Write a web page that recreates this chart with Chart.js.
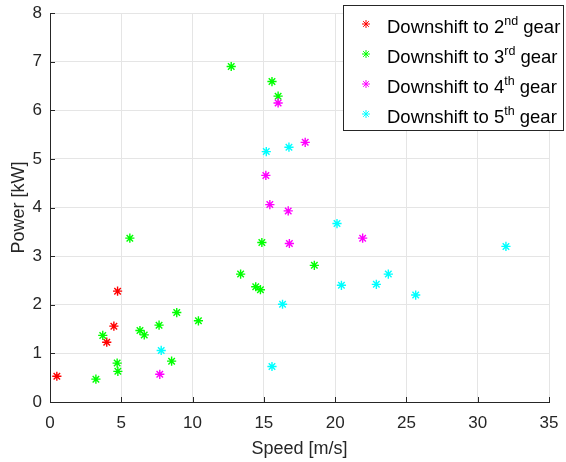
<!DOCTYPE html>
<html>
<head>
<meta charset="utf-8">
<script src="https://cdn.jsdelivr.net/npm/chart.js@4"></script>
<style>
  html, body { margin: 0; padding: 0; background: #fff; }
  #wrap { width: 566px; height: 462px; }
</style>
</head>
<body>
<div id="wrap"><canvas id="gearChart" width="566" height="462"></canvas></div>
<script>
// values
const speed2 = [0.48, 3.98, 4.48, 4.74];
const power2 = [0.53, 1.23, 1.56, 2.28];

const speed3 = [12.71, 15.57, 16.0, 5.60, 14.86, 13.37, 18.54, 14.43, 14.76, 8.89, 10.41, 7.65, 6.31, 6.61, 3.70, 4.71, 4.76, 3.22, 8.53];
const power3 = [6.90, 6.59, 6.29, 3.37, 3.28, 2.63, 2.81, 2.37, 2.31, 1.84, 1.67, 1.58, 1.47, 1.38, 1.37, 0.80, 0.63, 0.47, 0.84];

const speed4 = [16.0, 17.9, 15.14, 15.42, 16.71, 16.79, 21.93, 7.70];
const power4 = [6.15, 5.34, 4.66, 4.06, 3.93, 3.26, 3.37, 0.57];

const speed5 = [15.17, 16.76, 20.13, 31.98, 23.73, 20.44, 22.89, 25.65, 16.31, 7.80, 15.57];
const power5 = [5.15, 5.24, 3.67, 3.20, 2.63, 2.40, 2.42, 2.20, 2.01, 1.06, 0.73];

const gearNums = ['2', '3', '4', '5'];
const gearSuffix = ['nd', 'rd', 'th', 'th'];
const gearColors = ['#ff0000', '#00ff00', '#ff00ff', '#00ffff'];

const xTicks = [0, 5, 10, 15, 20, 25, 30, 35];
const yTicks = [0, 1, 2, 3, 4, 5, 6, 7, 8];

const FONT = '"Liberation Sans", Arial, sans-serif';
const INK = '#262626';

function toPoints(xs, ys) {
    return xs.map((x, i) => ({ x: x, y: ys[i] }));
}

const series = [
    toPoints(speed2, power2),
    toPoints(speed3, power3),
    toPoints(speed4, power4),
    toPoints(speed5, power5)
];

const datasets = series.map((pts, i) => ({
    label: 'Downshift to ' + gearNums[i] + gearSuffix[i] + ' gear',
    data: pts,
    pointStyle: 'star',
    pointRadius: 4.6,
    pointBorderWidth: 1.4,
    borderColor: gearColors[i],
    backgroundColor: gearColors[i],
    showLine: false,
    order: 4 - i
}));

// inward ticks + legend with superscripts
const matlabBits = {
    id: 'matlabBits',
    afterDraw(chart) {
        const ctx = chart.ctx;
        const xs = chart.scales.x;
        const ys = chart.scales.y;
        const area = chart.chartArea;
        ctx.save();
        ctx.strokeStyle = INK;
        ctx.lineWidth = 1;
        ctx.beginPath();
        xTicks.forEach(t => {
            const px = Math.round(xs.getPixelForValue(t)) + 0.5;
            ctx.moveTo(px, area.bottom);
            ctx.lineTo(px, area.bottom - 5);
        });
        yTicks.forEach(t => {
            const py = Math.round(ys.getPixelForValue(t)) + 0.5;
            ctx.moveTo(area.left, py);
            ctx.lineTo(area.left + 5, py);
        });
        ctx.stroke();

        // legend box
        const bx = 343.5, by = 5.5, bw = 220, bh = 125;
        ctx.fillStyle = '#fff';
        ctx.fillRect(bx, by, bw, bh);
        ctx.strokeStyle = INK;
        ctx.strokeRect(bx, by, bw, bh);

        for (let i = 0; i < gearNums.length; i++) {
            const cy = 27 + i * 30;
            ctx.strokeStyle = gearColors[i];
            ctx.fillStyle = gearColors[i];
            Chart.helpers.drawPoint(ctx, {
                pointStyle: 'star', radius: 4, borderWidth: 1.4
            }, 366, cy - 3);

            ctx.fillStyle = '#000';
            ctx.textBaseline = 'alphabetic';
            ctx.textAlign = 'left';
            ctx.font = '18.5px ' + FONT;
            let x = 387;
            const base = cy + 6;
            const head = 'Downshift to ' + gearNums[i];
            ctx.fillText(head, x, base);
            x += ctx.measureText(head).width;
            ctx.font = '12.5px ' + FONT;
            ctx.fillText(gearSuffix[i], x, base - 8);
            x += ctx.measureText(gearSuffix[i]).width;
            ctx.font = '18.5px ' + FONT;
            ctx.fillText(' gear', x, base);
        }
        ctx.restore();
    }
};

new Chart(document.getElementById('gearChart').getContext('2d'), {
    type: 'scatter',
    data: { datasets: datasets },
    options: {
        responsive: false,
        animation: false,
        layout: { padding: { top: 13, right: 17, left: 0, bottom: 0 } },
        plugins: {
            legend: { display: false },
            tooltip: { enabled: false }
        },
        scales: {
            x: {
                type: 'linear',
                min: 0,
                max: 35,
                afterBuildTicks: (scale) => { scale.ticks = xTicks.map(v => ({ value: v })); },
                afterFit: (scale) => {
                    scale.height = 60;
                    scale.paddingLeft = 0;
                    scale.paddingRight = 0;
                },
                ticks: { color: INK, font: { family: FONT, size: 17 }, padding: 11 },
                grid: { color: '#e5e5e5', drawTicks: false },
                border: { color: INK, width: 1 },
                title: {
                    display: true, text: 'Speed [m/s]', color: INK,
                    font: { family: FONT, size: 18 }, padding: { top: 0, bottom: 2 }
                }
            },
            y: {
                type: 'linear',
                min: 0,
                max: 8,
                afterBuildTicks: (scale) => { scale.ticks = yTicks.map(v => ({ value: v })); },
                afterFit: (scale) => {
                    scale.width = 50;
                    scale.paddingTop = 0;
                    scale.paddingBottom = 0;
                },
                ticks: { color: INK, font: { family: FONT, size: 17 }, padding: 8 },
                grid: { color: '#e5e5e5', drawTicks: false },
                border: { color: INK, width: 1 },
                title: {
                    display: true, text: 'Power [kW]', color: INK,
                    font: { family: FONT, size: 18 }, padding: { top: 8, bottom: 0 }
                }
            }
        }
    },
    plugins: [matlabBits]
});
</script>
</body>
</html>
